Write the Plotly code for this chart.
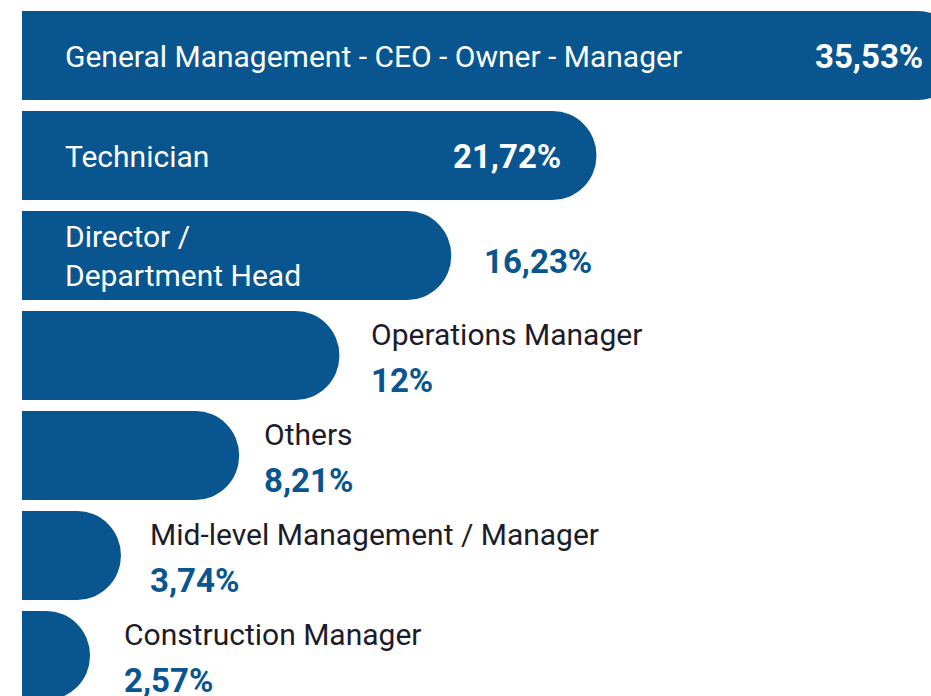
import plotly.graph_objects as go

# share of respondents by job role
roles = [
    "General Management - CEO - Owner - Manager",
    "Technician",
    "Director /<br>Department Head",
    "Operations Manager",
    "Others",
    "Mid-level Management / Manager",
    "Construction Manager",
]
shares = [35.53, 21.72, 16.23, 12, 8.21, 3.74, 2.57]
share_labels = ["35,53%", "21,72%", "16,23%", "12%", "8,21%", "3,74%", "2,57%"]

BAR_BLUE = "#09558f"
TEXT_DARK = "#1c1c2b"
FONT = "Roboto"

# gap (px) between bar end and the outside labels, per row
outside_gap = [0, 0, 31, 30, 23, 27, 32]

rows = list(range(len(roles)))

fig = go.Figure()
fig.add_trace(go.Bar(
    x=shares,
    y=rows,
    orientation="h",
    width=0.89,
    marker=dict(color=BAR_BLUE, cornerradius="50%", line=dict(width=0)),
    hoverinfo="skip",
))

annotations = []
for i, (role, share, lab) in enumerate(zip(roles, shares, share_labels)):
    if i == 0:
        # widest bar runs off the right edge, so pin its value to the plot edge
        annotations.append(dict(x=0, y=i, text=role, xanchor="left", xshift=41, yshift=-1,
                                font=dict(family=FONT, size=30, color="white")))
        annotations.append(dict(x=1, xref="paper", y=i, text="<b>" + lab + "</b>", xanchor="right",
                                xshift=-6, yshift=-1,
                                font=dict(family=FONT, size=33, color="white")))
    elif i == 1:
        annotations.append(dict(x=0, y=i, text=role, xanchor="left", xshift=41, yshift=-1,
                                font=dict(family=FONT, size=30, color="white")))
        annotations.append(dict(x=share, y=i, text="<b>" + lab + "</b>", xanchor="right", xshift=-33,
                                yshift=-1, font=dict(family=FONT, size=33, color="white")))
    elif i == 2:
        # label inside, value to the right
        annotations.append(dict(x=0, y=i, text=role, xanchor="left", xshift=41, align="left",
                                font=dict(family=FONT, size=30, color="white")))
        annotations.append(dict(x=share, y=i, text="<b>" + lab + "</b>", xanchor="left",
                                xshift=outside_gap[i], yshift=-6,
                                font=dict(family=FONT, size=33, color=BAR_BLUE)))
    else:
        # label and value stacked to the right of the bar
        annotations.append(dict(x=share, y=i, text=role, xanchor="left", xshift=outside_gap[i], yshift=21,
                                font=dict(family=FONT, size=30, color=TEXT_DARK)))
        annotations.append(dict(x=share, y=i, text="<b>" + lab + "</b>", xanchor="left",
                                xshift=outside_gap[i], yshift=-25,
                                font=dict(family=FONT, size=33, color=BAR_BLUE)))

for a in annotations:
    a.setdefault("xref", "x")
    a.update(yref="y", showarrow=False, yanchor="middle")

fig.update_layout(
    width=931,
    height=696,
    margin=dict(l=22, r=0, t=0, b=0),
    paper_bgcolor="white",
    plot_bgcolor="white",
    showlegend=False,
    annotations=annotations,
    xaxis=dict(range=[0, 34.37], visible=False, fixedrange=True),
    yaxis=dict(range=[6.405, -0.555], visible=False, fixedrange=True),
)

# drop the default body margin so the figure fills the window exactly
fig.write_html(
    "out.html",
    config={"displayModeBar": False},
    post_script="document.body.style.margin='0';document.body.style.overflow='hidden';",
)
